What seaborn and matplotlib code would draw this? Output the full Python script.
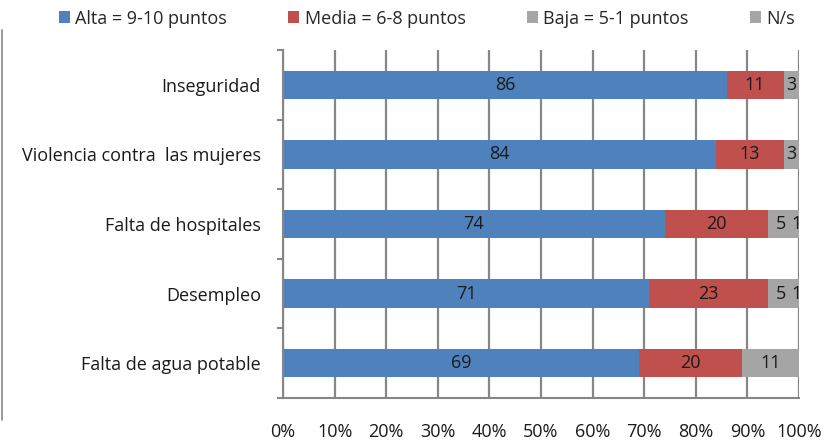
import matplotlib
matplotlib.use("Agg")
import matplotlib.pyplot as plt
import seaborn as sns
import pandas as pd
import numpy as np
from matplotlib.lines import Line2D
from matplotlib.patches import Patch

categories = ["Inseguridad", "Violencia contra  las mujeres", "Falta de hospitales",
              "Desempleo", "Falta de agua potable"]
alta = [86, 84, 74, 71, 69]
media = [11, 13, 20, 23, 20]
baja = [3, 3, 5, 5, 11]
ns = [0, 0, 1, 1, 0]
series_names = ["Alta = 9-10 puntos", "Media = 6-8 puntos", "Baja = 5-1 puntos", "N/s"]
colors = ["#4F81BD", "#C0504D", "#A5A5A5", "#A5A5A5"]
xticks = list(range(0, 101, 10))
xticklabels = [f"{t}%" for t in xticks]

sns.set_theme(style="white")
plt.rcParams['font.family'] = ['Open Sans', 'DejaVu Sans']

FS = 13

series = [alta, media, baja, ns]
cums = np.cumsum(np.array(series), axis=0)
df = pd.DataFrame({"cat": categories})

fig = plt.figure(figsize=(8.29, 4.45), dpi=100)
ax = fig.add_axes([283/829, 1-398/445, (799-283)/829, (398-50)/445])

ax.set_axisbelow(True)
for t in xticks:
    ax.axvline(t, color="#868686", lw=1.6, zorder=0)

for i in range(3, -1, -1):
    d = df.copy()
    d["v"] = cums[i]
    sns.barplot(data=d, x="v", y="cat", orient="h", color=colors[i], width=0.41,
                ax=ax, saturation=1, edgecolor="none", zorder=2)

for j in range(len(categories)):
    start = 0
    for i, s in enumerate(series):
        v = s[j]
        if v > 0:
            ax.text(start + v/2, j, str(v), ha="center", va="center",
                    fontsize=FS, color="#1a1a1a", zorder=5)
        start += v

ax.set_xlim(0, 100)
ax.set_ylim(4.5, -0.5)
ax.set_xlabel("")
ax.set_ylabel("")
ax.set_xticks(xticks)
ax.set_xticklabels(xticklabels, fontsize=FS, color="#1a1a1a")
ax.tick_params(axis="x", direction="out", length=4, width=1.5, color="#868686", pad=14)
ax.set_yticks(range(len(categories)))
ax.set_yticklabels(categories, fontsize=FS, color="#1a1a1a")
ax.set_yticks(np.arange(-0.5, 5, 1), minor=True)
ax.tick_params(axis="y", which="major", length=0, pad=16)
ax.tick_params(axis="y", which="minor", direction="out", length=4, width=1.5, color="#868686", left=True)
for side in ["top", "right"]:
    ax.spines[side].set_visible(False)
for side in ["left", "bottom"]:
    ax.spines[side].set_color("#868686")
    ax.spines[side].set_linewidth(1.5)

handles = [Patch(facecolor=c, edgecolor="none") for c in colors]
fig.legend(handles, series_names, loc="upper center", bbox_to_anchor=(0.515, 1.015), ncol=4,
           frameon=False, fontsize=FS, handlelength=0.6, handleheight=0.6,
           handletextpad=0.3, columnspacing=3.4)

fig.add_artist(Line2D([2/829, 2/829], [1-30/445, 1-420/445], color="#868686", lw=1.2))

fig.savefig("out.png", dpi=100)
